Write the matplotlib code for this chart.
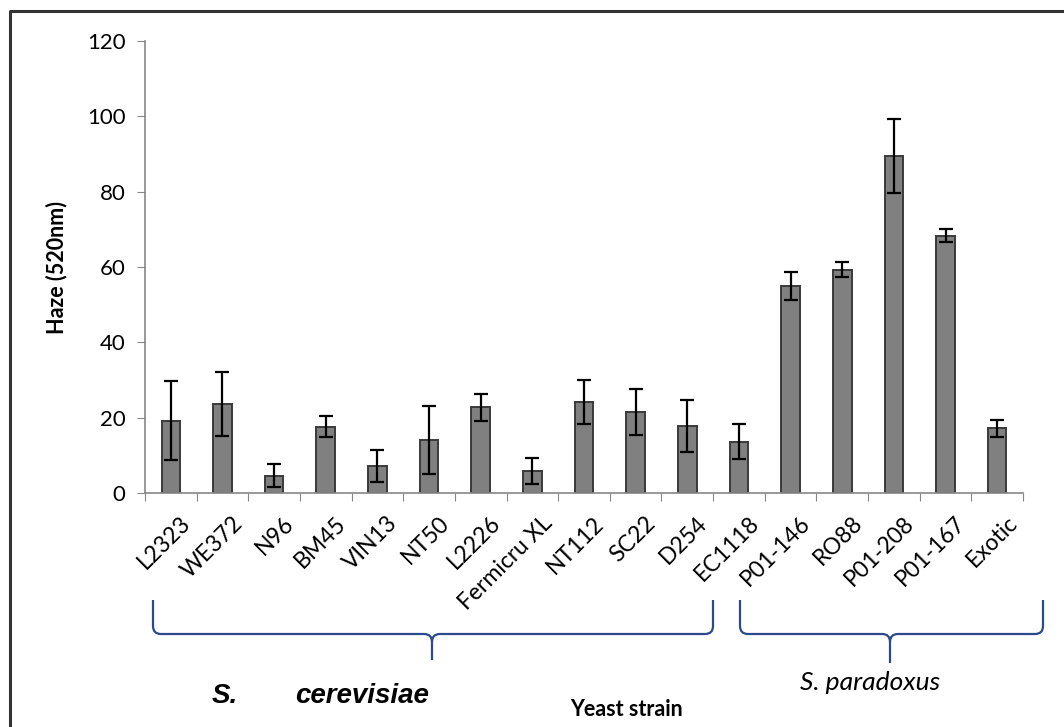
import numpy as np
import matplotlib.pyplot as plt
from matplotlib.path import Path
from matplotlib.patches import PathPatch

# === Data ===
strains = ["L2323", "WE372", "N96", "BM45", "VIN13", "NT50", "L2226", "Fermicru XL",
           "NT112", "SC22", "D254", "EC1118", "P01-146", "RO88", "P01-208", "P01-167", "Exotic"]
haze = [19.2, 23.6, 4.6, 17.6, 7.2, 14.1, 22.7, 5.9, 24.2, 21.5, 17.8, 13.6,
        55.0, 59.3, 89.4, 68.3, 17.2]
haze_err = [10.5, 8.4, 3.1, 2.8, 4.2, 9.0, 3.7, 3.5, 5.8, 6.0, 6.9, 4.7,
            3.7, 2.0, 9.8, 1.7, 2.2]

W, H = 1064, 727
fig = plt.figure(figsize=(W / 100, H / 100), dpi=100)
ax = fig.add_axes([145 / W, 1 - 493 / H, (1023 - 145) / W, (493 - 41) / H])

x = np.arange(len(strains))
ax.bar(x, haze, width=0.36, color="#808080", edgecolor="#3a3a3a", linewidth=1.4, zorder=2)
ax.errorbar(x, haze, yerr=haze_err, fmt="none", ecolor="black", elinewidth=1.6,
            capsize=5, capthick=1.6, zorder=3)

ax.set_xlim(-0.5, len(strains) - 0.5)
ax.set_ylim(0, 120)
ax.set_yticks(range(0, 121, 20))
ax.tick_params(axis="y", labelsize=16, length=6, color="#888888", pad=8)
for t in ax.get_yticklabels():
    t.set_fontfamily("Lato")

# ticks on category boundaries, labels at centers
ax.set_xticks(np.arange(-0.5, len(strains), 1.0))
ax.set_xticklabels([])
ax.set_xticks(x + 0.18, minor=True)
ax.set_xticklabels(strains, minor=True, rotation=45, ha="right", va="top",
                   rotation_mode="anchor", fontsize=16.5, fontfamily="Lato")
ax.tick_params(axis="x", which="major", length=6, color="#888888")
ax.tick_params(axis="x", which="minor", length=0, pad=14)

for side in ["top", "right"]:
    ax.spines[side].set_visible(False)
for side in ["left", "bottom"]:
    ax.spines[side].set_color("#888888")
    ax.spines[side].set_linewidth(1.2)

ax.set_ylabel("Haze (520nm)", fontsize=15.5, fontweight="bold", fontfamily="Lato", labelpad=14)

# === Overlay in pixel coordinates: frame, braces, group labels ===
ov = fig.add_axes([0, 0, 1, 1], facecolor="none")
ov.set_xlim(0, W)
ov.set_ylim(H, 0)
ov.axis("off")
ov.plot([10, 10, W + 5], [H + 5, 11, 11], color="#333333", lw=2.2)


def brace(x0, x1, xm, ytop, ybar, ytip, r=8):
    verts = [(x0, ytop), (x0, ybar - r), (x0, ybar), (x0 + r, ybar),
             (xm - r, ybar), (xm, ybar), (xm, ybar + r), (xm, ytip)]
    codes = [Path.MOVETO, Path.LINETO, Path.CURVE3, Path.CURVE3,
             Path.LINETO, Path.CURVE3, Path.CURVE3, Path.LINETO]
    ov.add_patch(PathPatch(Path(verts, codes), fill=False, ec="#2b4a8c", lw=1.6))
    verts = [(x1, ytop), (x1, ybar - r), (x1, ybar), (x1 - r, ybar),
             (xm + r, ybar), (xm, ybar), (xm, ybar + r)]
    codes = [Path.MOVETO, Path.LINETO, Path.CURVE3, Path.CURVE3,
             Path.LINETO, Path.CURVE3, Path.CURVE3]
    ov.add_patch(PathPatch(Path(verts, codes), fill=False, ec="#2b4a8c", lw=1.6))


brace(153, 713, 432, 600, 634, 660)
brace(740, 1043, 890, 600, 634, 663)

ov.text(212, 696, "S.", fontsize=20, fontweight="bold", fontstyle="italic",
        fontfamily="Liberation Sans", ha="left", va="center")
ov.text(295, 696, "cerevisiae", fontsize=20, fontweight="bold", fontstyle="italic",
        fontfamily="Liberation Sans", ha="left", va="center")
ov.text(570, 709, "Yeast strain", fontsize=15.5, fontweight="bold", fontfamily="Lato",
        ha="left", va="center")
ov.text(800, 682, "S. paradoxus", fontsize=19, fontstyle="italic", fontfamily="Lato",
        ha="left", va="center")

fig.savefig("out.png", dpi=100)
